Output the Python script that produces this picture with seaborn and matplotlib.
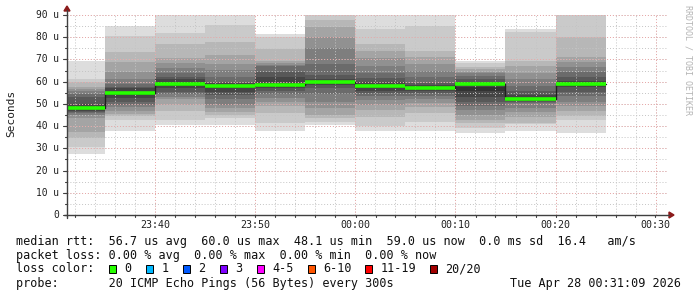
import matplotlib
matplotlib.use("Agg")
import matplotlib.pyplot as plt
import matplotlib.patches as mpatches
import numpy as np
import pandas as pd
import seaborn as sns

# ---------------- data ----------------
bar_end = ["23:35", "23:40", "23:45", "23:50", "23:55", "00:00",
           "00:05", "00:10", "00:15", "00:20", "00:25"]
median_us = [48.1, 55.0, 58.8, 57.9, 58.6, 60.0, 57.9, 57.0, 58.8, 52.1, 59.0]

# 20 sorted ping rtts (us) per 5-minute step, estimated from the smoke bands
pings_2335 = [27.3, 30.7, 34.6, 37.5, 43.6, 45, 46, 46.5, 47, 47.5, 48.7, 50, 53.2, 54.5, 56, 56.5, 57.7, 59.8, 61, 69.5]
pings_2340 = [37.9, 42.7, 44.5, 45.5, 47, 48.5, 49.5, 51, 52.5, 54, 55.5, 57, 57.5, 59, 61, 64.5, 69, 73.5, 80.5, 85]
pings_2345 = [40.5, 42.8, 47, 49.5, 52, 53.2, 54.5, 55.5, 57, 58, 59.3, 61, 62.3, 63.8, 66, 68.3, 70.5, 77, 82, 95]
pings_2350 = [40.5, 43.6, 45, 46.5, 48, 49.5, 52, 54, 55.5, 57, 58.5, 59.5, 60, 62, 65.3, 68, 72, 78, 85.5, 95]
pings_2355 = [37.9, 41.3, 46, 49, 51, 52.8, 54.3, 56, 57, 57.5, 59.5, 62, 64.5, 67, 67.5, 68.3, 69.3, 74.5, 80, 81.5]
pings_0000 = [40.5, 42, 43.5, 45, 48, 51, 54.5, 57, 58.5, 59.5, 60.5, 61, 63, 68, 75, 80, 84.5, 87.7, 90, 95]
pings_0005 = [37.9, 40, 44, 47.3, 49.5, 51.8, 53.5, 54.8, 56, 57, 58.5, 60, 61.5, 64, 67, 70.5, 74, 77, 83.7, 92]
pings_0010 = [37.9, 42, 45.8, 48.5, 50.3, 52, 53.5, 55, 55.9, 56.5, 57.5, 58.5, 59.3, 62, 65, 68, 71, 73.9, 85, 92]
pings_0015 = [37, 39, 41.3, 42.75, 45, 47.25, 49, 51, 53.2, 56, 57.5, 59.5, 61, 62.5, 63.8, 64.5, 65.6, 66.5, 68.3, 69.5]
pings_0020 = [37.9, 41, 41.5, 44, 46.5, 48, 50.3, 51, 51.5, 52, 52.2, 54, 56, 58, 61, 64, 67, 69.5, 82.5, 83.6]
pings_0025 = [37, 42.75, 44.5, 47, 49, 51, 53.7, 55.5, 57.5, 58.5, 59, 60.5, 62.2, 64.5, 66.7, 69, 71.25, 80, 90, 95]
pings = [pings_2335, pings_2340, pings_2345, pings_2350, pings_2355, pings_0000,
         pings_0005, pings_0010, pings_0015, pings_0020, pings_0025]

x_tick_labels = ["23:40", "23:50", "00:00", "00:10", "00:20", "00:30"]
y_ticks = [0, 10, 20, 30, 40, 50, 60, 70, 80, 90]
y_tick_labels = ["0", "10 u", "20 u", "30 u", "40 u", "50 u", "60 u", "70 u", "80 u", "90 u"]

loss_labels = ["0", "1", "2", "3", "4-5", "6-10", "11-19", "20/20"]
loss_colors = ["#26ff00", "#00b8ff", "#0059ff", "#7e00ff", "#ff00ff", "#ff5500", "#ff0000", "#a10000"]

legend_rtt = "median rtt:  56.7 us avg  60.0 us max  48.1 us min  59.0 us now  0.0 ms sd  16.4   am/s"
legend_loss = "packet loss: 0.00 % avg  0.00 % max  0.00 % min  0.00 % now"
legend_probe = "probe:       20 ICMP Echo Pings (56 Bytes) every 300s"
stamp = "Tue Apr 28 00:31:09 2026"


def to_min(s):
    h, m = map(int, s.split(":"))
    if h < 12:
        h += 24
    return (h - 23) * 60 + m


ends = np.array([to_min(s) for s in bar_end], dtype=float)
starts = ends - 5
x_end = to_min("00:31") + 9 / 60.0
x_start = x_end - 60

# ---------------- figure ----------------
sns.set_style("white")
plt.rcParams["font.family"] = ["DejaVu Sans Mono", "DejaVu Sans"]
W, H = 697, 297
fig = plt.figure(figsize=(W / 100, H / 100), dpi=100)
fig.patch.set_facecolor("white")


def fx(px):
    return px / W


def fy(py):
    return 1 - py / H


L, R, T, B = 67, 667, 15, 215
ax = fig.add_axes([fx(L), fy(B), (R - L) / W, (B - T) / H])
ax.set_xlim(x_start, x_end)
ax.set_ylim(0, 90)
for sp in ax.spines.values():
    sp.set_visible(False)
ax.set_xticks([])
ax.set_yticks([])

# smoke
half = 10
for i in range(half):
    g = int(190 / half * (half - (i + 1))) + 50
    col = "#%02x%02x%02x" % (g, g, g)
    bots = np.array([p[i] for p in pings])
    tops = np.array([p[19 - i] for p in pings])
    ax.bar(starts, tops - bots, bottom=bots, width=5, align="edge",
           color=col, linewidth=0, zorder=1)

# grid (minor then major), drawn over the smoke
minor_x = np.arange(32, 92, 2)
for xv in minor_x:
    ax.axvline(xv, color="#c4c4c4", lw=0.7, ls=(0, (1, 2)), zorder=3)
for yv in np.arange(5, 91, 5):
    ax.axhline(yv, color="#c4c4c4", lw=0.7, ls=(0, (1, 2)), zorder=3)
major_x = [to_min(s) for s in x_tick_labels]
for xv in major_x:
    ax.axvline(xv, color="#eaa8a8", lw=0.7, ls=(0, (1, 2)), zorder=3)
for yv in y_ticks[1:]:
    ax.axhline(yv, color="#eaa8a8", lw=0.7, ls=(0, (1, 2)), zorder=3)

# median: black step line + green loss-colored segments
df = pd.DataFrame({"t": np.concatenate([[starts[0]], ends]),
                   "median": np.concatenate([[median_us[0]], median_us])})
sns.lineplot(data=df, x="t", y="median", drawstyle="steps-pre",
             color="#202020", lw=1.0, ax=ax, zorder=4)
ax.hlines(median_us, np.maximum(starts, x_start), ends, colors=loss_colors[0],
          lw=2.6, zorder=5)
ax.set_xlabel("")
ax.set_ylabel("")
ax.set_xlim(x_start, x_end)
ax.set_ylim(0, 90)

# axes lines and arrows (figure pixels)
fig.add_artist(plt.Line2D([fx(L), fx(L)], [fy(B + 3), fy(10)], color="#404040", lw=1.0))
fig.add_artist(plt.Line2D([fx(L - 3), fx(669)], [fy(B), fy(B)], color="#404040", lw=1.0))
fig.add_artist(mpatches.Polygon([[fx(L - 3), fy(11)], [fx(L + 3), fy(11)], [fx(L), fy(6)]],
                                closed=True, color="#8b1a1a", transform=fig.transFigure))
fig.add_artist(mpatches.Polygon([[fx(669), fy(B - 3)], [fx(669), fy(B + 3)], [fx(674), fy(B)]],
                                closed=True, color="#8b1a1a", transform=fig.transFigure))


def xpix(v):
    return L + (v - x_start) / 60 * (R - L)


def ypix(v):
    return B - v / 90 * (B - T)


# tick marks
for xv in minor_x:
    fig.add_artist(plt.Line2D([fx(xpix(xv)), fx(xpix(xv))], [fy(B), fy(B + 2)], color="#404040", lw=0.8))
for yv in np.arange(0, 91, 5):
    fig.add_artist(plt.Line2D([fx(L - 2), fx(L)], [fy(ypix(yv)), fy(ypix(yv))], color="#404040", lw=0.8))
for yv in y_ticks:
    fig.add_artist(plt.Line2D([fx(L - 4), fx(L)], [fy(ypix(yv)), fy(ypix(yv))], color="#404040", lw=0.8))

# tick labels
for xv, lab in zip(major_x, x_tick_labels):
    fig.text(fx(xpix(xv)), fy(225), lab, ha="center", va="center", fontsize=7.2, color="#202020")
for yv, lab in zip(y_ticks, y_tick_labels):
    fig.text(fx(59), fy(ypix(yv)), lab, ha="right", va="center", fontsize=6.9, color="#202020")

fig.text(fx(11), fy(113), "Seconds", rotation=90, ha="center", va="center", fontsize=8, color="#202020")
fig.text(fx(688), fy(60), "RRDTOOL / TOBI OETIKER", rotation=270, ha="center", va="center",
         fontsize=6, color="#b4b4b4")

# legend area
fs = 8.5
fig.text(fx(16), fy(241.7), legend_rtt, ha="left", va="center", fontsize=fs, color="#101010")
fig.text(fx(16), fy(255), legend_loss, ha="left", va="center", fontsize=fs, color="#101010")
fig.text(fx(16), fy(269), "loss color:", ha="left", va="center", fontsize=fs, color="#101010")
fig.text(fx(16), fy(283.3), legend_probe, ha="left", va="center", fontsize=fs, color="#101010")
fig.text(fx(681), fy(283.3), stamp, ha="right", va="center", fontsize=fs, color="#101010")

sw_x = [108.7, 146, 183, 220, 257, 308, 365, 430]
for sx, col, lab in zip(sw_x, loss_colors, loss_labels):
    fig.add_artist(mpatches.Rectangle((fx(sx), fy(273.3)), 7.3 / W, 8 / H, transform=fig.transFigure,
                                      facecolor=col, edgecolor="black", lw=0.7))
    fig.text(fx(sx + 15.3), fy(269), lab, ha="left", va="center", fontsize=fs, color="#101010")

fig.savefig("out.png", dpi=100, facecolor="white")
